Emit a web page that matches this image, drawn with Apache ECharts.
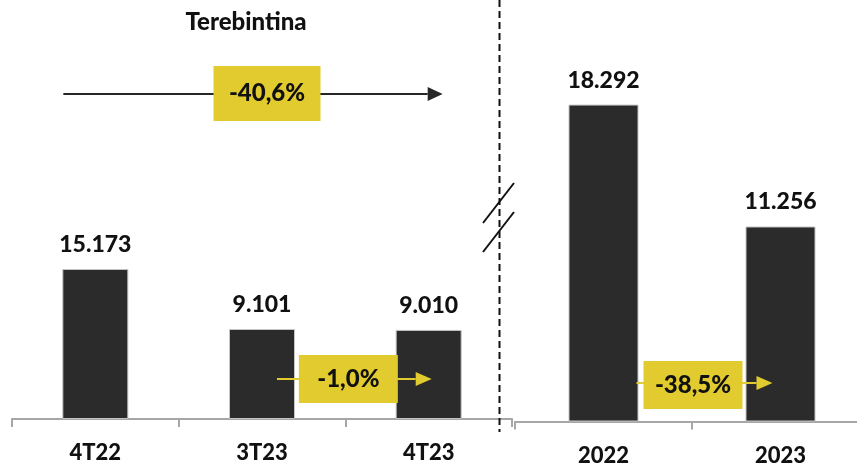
<!DOCTYPE html>
<html>
<head>
<meta charset="utf-8">
<script src="https://cdn.jsdelivr.net/npm/echarts@6/dist/echarts.min.js"></script>
<style>
  html, body { margin: 0; padding: 0; background: #fff; }
  #chart { width: 857px; height: 471px; }
</style>
</head>
<body>
<div id="chart"></div>
<script>
// Terebintina volumes: quarters on the left panel, full years on the right panel
const quarterLabels = ['4T22', '3T23', '4T23'];
const quarterValues = [15173, 9101, 9010];
const yearLabels = ['2022', '2023'];
const yearValues = [18292, 11256];
const changeLabels = ['-40,6%', '-1,0%', '-38,5%'];
const titleText = 'Terebintina';

const FONT = 'Lato, "Open Sans", sans-serif';
const WEIGHT = 900;
const BAR = '#2b2b2b';
const YELLOW = '#e2cb2e';
const AXIS = '#a6a6a6';

function fmt(v) {
  return String(v).replace(/\B(?=(\d{3})+(?!\d))/g, '.');
}

const chart = echarts.init(document.getElementById('chart'), null, { renderer: 'canvas' });

function barSeries(idx, values, width) {
  return {
    type: 'bar',
    xAxisIndex: idx,
    yAxisIndex: idx,
    data: values,
    barWidth: width,
    itemStyle: { color: BAR, borderColor: '#c4c4c4', borderWidth: 1 },
    label: {
      show: true,
      position: 'top',
      distance: 13,
      formatter: p => fmt(p.value),
      fontFamily: FONT,
      fontWeight: WEIGHT,
      fontSize: 23,
      color: '#111'
    },
    silent: true
  };
}

function catAxis(idx, data) {
  return {
    type: 'category',
    gridIndex: idx,
    data: data,
    boundaryGap: true,
    axisLine: { show: true, lineStyle: { color: AXIS, width: 2 } },
    axisTick: { show: true, length: 8, lineStyle: { color: AXIS, width: 2 } },
    axisLabel: {
      margin: 23,
      fontFamily: FONT,
      fontWeight: WEIGHT,
      fontSize: 22,
      color: '#111'
    }
  };
}

function valAxis(idx, max) {
  return { type: 'value', gridIndex: idx, min: 0, max: max, show: false, splitLine: { show: false } };
}

chart.setOption({
  animation: false,
  backgroundColor: '#fff',
  grid: [
    { left: 12, width: 500, top: 23.5, bottom: 52, outerBoundsMode: 'none' },
    { left: 515, width: 354, top: 75, bottom: 49.5, outerBoundsMode: 'none' }
  ],
  xAxis: [catAxis(0, quarterLabels), catAxis(1, yearLabels)],
  yAxis: [valAxis(0, 40000), valAxis(1, 20000)],
  series: [barSeries(0, quarterValues, 66), barSeries(1, yearValues, 70)]
});

// Annotations placed relative to the category positions
const cL = quarterLabels.map(c => chart.convertToPixel({ xAxisIndex: 0 }, c));
const cR = yearLabels.map(c => chart.convertToPixel({ xAxisIndex: 1 }, c));

function arrow(x1, x2, y, color, head) {
  return [
    { type: 'line', shape: { x1: x1, y1: y, x2: x2 - head, y2: y }, style: { stroke: color, lineWidth: 2 }, z: 10 },
    { type: 'polygon', shape: { points: [[x2 - head, y - 7], [x2, y], [x2 - head, y + 7]] }, style: { fill: color }, z: 10 }
  ];
}

function tag(cx, cy, w, h, text) {
  return [
    { type: 'rect', shape: { x: cx - w / 2, y: cy - h / 2, width: w, height: h }, style: { fill: YELLOW }, z: 11 },
    { type: 'text', x: cx, y: cy, style: { text: text, fill: '#111', font: WEIGHT + ' 24px ' + FONT, textAlign: 'center', textVerticalAlign: 'middle' }, z: 12 }
  ];
}

const elements = [].concat(
  // title
  [{ type: 'text', x: 246, y: 22, style: { text: titleText, fill: '#111', font: WEIGHT + ' 24px ' + FONT, textAlign: 'center', textVerticalAlign: 'middle' } }],
  // overall quarter change
  arrow(cL[0] - 32, cL[2] + 14, 94, '#262626', 15),
  tag(cL[1] + 5, 93.5, 107, 55, changeLabels[0]),
  // quarter-on-quarter change
  arrow(cL[1] + 15, cL[2] + 3, 379, YELLOW, 16),
  tag((cL[1] + cL[2]) / 2 + 3, 379, 99, 48, changeLabels[1]),
  // year-on-year change
  arrow(cR[0] + 33, cR[1] - 8, 383, YELLOW, 16),
  tag((cR[0] + cR[1]) / 2 + 1, 385, 99, 48, changeLabels[2]),
  // separator between panels and axis-break marks
  [
    { type: 'line', shape: { x1: 499.5, y1: 0, x2: 499.5, y2: 432 }, style: { stroke: '#111', lineWidth: 2, lineDash: [7, 4] }, z: 5 },
    { type: 'line', shape: { x1: 483, y1: 223, x2: 514, y2: 183 }, style: { stroke: '#111', lineWidth: 2 }, z: 6 },
    { type: 'line', shape: { x1: 483, y1: 252, x2: 514, y2: 212 }, style: { stroke: '#111', lineWidth: 2 }, z: 6 }
  ]
);

chart.setOption({ graphic: { elements: elements } });
</script>
</body>
</html>
